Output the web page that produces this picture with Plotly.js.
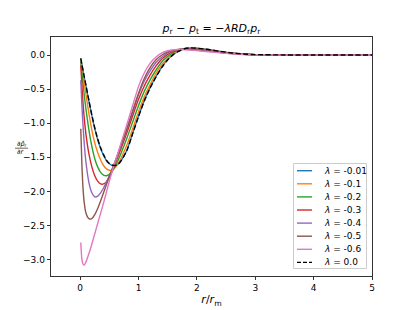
<!DOCTYPE html>
<html>
<head>
<meta charset="utf-8">
<script src="https://cdn.plot.ly/plotly-3.0.1.min.js"></script>
<style>html,body{margin:0;padding:0;background:#fff;}#chart{width:413px;height:310px;}</style>
</head>
<body>
<div id="chart"></div>
<script>
// r / r_m sample positions
var r = [0.01, 0.03, 0.05, 0.07, 0.1, 0.15, 0.2, 0.25, 0.3, 0.35, 0.4, 0.45, 0.5, 0.55, 0.6, 0.65, 0.7, 0.8, 0.9, 1.0, 1.1, 1.2, 1.3, 1.4, 1.5, 1.6, 1.7, 1.8, 1.9, 2.0, 2.2, 2.4, 2.6, 2.8, 3.0, 3.5, 4.0, 5.0];

var lam_m001 = [-0.05, -0.14, -0.235, -0.33, -0.46, -0.68, -0.89, -1.08, -1.24, -1.37, -1.47, -1.55, -1.595, -1.62, -1.625, -1.60, -1.55, -1.395, -1.145, -0.895, -0.665, -0.475, -0.315, -0.175, -0.068, 0.012, 0.061, 0.095, 0.105, 0.10, 0.08, 0.053, 0.03, 0.014, 0.006, 0.001, 0, 0];
var lam_m01 = [-0.07, -0.18, -0.30, -0.40, -0.58, -0.86, -1.10, -1.29, -1.43, -1.54, -1.62, -1.67, -1.69, -1.685, -1.65, -1.59, -1.51, -1.32, -1.08, -0.83, -0.61, -0.43, -0.27, -0.14, -0.05, 0.025, 0.07, 0.095, 0.10, 0.095, 0.075, 0.05, 0.028, 0.013, 0.005, 0.001, 0, 0];
var lam_m02 = [-0.10, -0.26, -0.43, -0.59, -0.80, -1.10, -1.34, -1.52, -1.64, -1.72, -1.76, -1.77, -1.75, -1.70, -1.63, -1.54, -1.44, -1.22, -0.98, -0.74, -0.53, -0.36, -0.22, -0.10, -0.02, 0.04, 0.075, 0.09, 0.095, 0.09, 0.07, 0.047, 0.026, 0.012, 0.005, 0.001, 0, 0];
var lam_m03 = [-0.15, -0.45, -0.72, -0.93, -1.17, -1.45, -1.64, -1.77, -1.85, -1.89, -1.89, -1.86, -1.79, -1.70, -1.59, -1.48, -1.37, -1.14, -0.89, -0.65, -0.45, -0.29, -0.16, -0.06, 0.01, 0.055, 0.08, 0.09, 0.09, 0.085, 0.065, 0.044, 0.025, 0.011, 0.004, 0.001, 0, 0];
var lam_m04 = [-0.37, -0.75, -1.05, -1.30, -1.58, -1.87, -2.02, -2.08, -2.07, -2.02, -1.95, -1.86, -1.77, -1.67, -1.56, -1.45, -1.33, -1.09, -0.83, -0.58, -0.38, -0.23, -0.11, -0.03, 0.03, 0.065, 0.082, 0.087, 0.085, 0.08, 0.06, 0.04, 0.022, 0.01, 0.004, 0.001, 0, 0];
var lam_m05 = [-1.08, -1.62, -1.97, -2.17, -2.32, -2.40, -2.40, -2.34, -2.25, -2.14, -2.02, -1.90, -1.78, -1.67, -1.56, -1.44, -1.32, -1.08, -0.82, -0.56, -0.34, -0.18, -0.07, 0.0, 0.045, 0.072, 0.082, 0.083, 0.078, 0.072, 0.055, 0.036, 0.02, 0.009, 0.003, 0.001, 0, 0];
var lam_m06 = [-2.75, -3.00, -3.07, -3.08, -3.03, -2.91, -2.77, -2.62, -2.47, -2.32, -2.17, -2.01, -1.85, -1.70, -1.56, -1.43, -1.29, -1.02, -0.74, -0.46, -0.26, -0.12, -0.03, 0.03, 0.062, 0.077, 0.08, 0.077, 0.071, 0.064, 0.048, 0.032, 0.018, 0.008, 0.003, 0.001, 0, 0];
var lam_0 = [-0.05, -0.14, -0.23, -0.32, -0.45, -0.67, -0.88, -1.07, -1.23, -1.36, -1.46, -1.54, -1.59, -1.615, -1.62, -1.60, -1.55, -1.40, -1.15, -0.90, -0.67, -0.48, -0.32, -0.18, -0.07, 0.01, 0.06, 0.095, 0.105, 0.10, 0.08, 0.053, 0.03, 0.014, 0.006, 0.001, 0, 0];

var labels = ["-0.01", "-0.1", "-0.2", "-0.3", "-0.4", "-0.5", "-0.6", "0.0"];
var seriesList = [lam_m001, lam_m01, lam_m02, lam_m03, lam_m04, lam_m05, lam_m06, lam_0];
var colors = ["#1f77b4", "#ff7f0e", "#2ca02c", "#d62728", "#9467bd", "#8c564b", "#e377c2", "#000000"];
var xTicks = [0, 1, 2, 3, 4, 5];

var traces = seriesList.map(function (ys, i) {
  return {
    x: r, y: ys, type: "scatter", mode: "lines",
    name: "λ = " + labels[i],
    line: {color: colors[i], width: 1.4, shape: "spline", smoothing: 0.7,
           dash: i === 7 ? "5px,2.5px" : "solid"},
    showlegend: false, hoverinfo: "skip"
  };
});

var FONT = "DejaVu Sans, sans-serif";
var L = 51, R = 372, T = 37, B = 276, W = 413, H = 310;
function px2x(p) { return (p - L) / (R - L); }
function px2y(p) { return (B - p) / (B - T); }

var shapes = [];
var annotations = [];

// manual legend (matplotlib style)
shapes.push({type: "rect", xref: "paper", yref: "paper",
  x0: px2x(293.5), x1: px2x(366.5), y0: px2y(268.5), y1: px2y(163.5),
  line: {color: "#cccccc", width: 1}, fillcolor: "rgba(255,255,255,0.8)", layer: "above"});
labels.forEach(function (lab, i) {
  var yy = 170.7 + 13.1 * i;
  shapes.push({type: "line", xref: "paper", yref: "paper",
    x0: px2x(297), x1: px2x(312), y0: px2y(yy), y1: px2y(yy),
    line: {color: colors[i], width: 1.4, dash: i === 7 ? "4px,2px" : "solid"}, layer: "above"});
  annotations.push({xref: "paper", yref: "paper", x: px2x(322), y: px2y(yy),
    xanchor: "left", yanchor: "middle", showarrow: false,
    text: "<i>λ</i> = " + lab, font: {family: FONT, size: 9, color: "#000"}});
});

// y-axis label as a small fraction
annotations.push({xref: "paper", yref: "paper", x: px2x(21.5), y: px2y(144),
  xanchor: "center", yanchor: "middle", showarrow: false, borderpad: 0,
  text: "∂<i>p̂</i><sub>r</sub>", font: {family: FONT, size: 6.5, color: "#000"}});
annotations.push({xref: "paper", yref: "paper", x: px2x(20.5), y: px2y(151.5),
  xanchor: "center", yanchor: "middle", showarrow: false, borderpad: 0,
  text: "∂<i>r</i>", font: {family: FONT, size: 6.5, color: "#000"}});
shapes.push({type: "line", xref: "paper", yref: "paper",
  x0: px2x(15), x1: px2x(28), y0: px2y(148.2), y1: px2y(148.2),
  line: {color: "#000", width: 0.6}});

var layout = {
  width: W, height: H,
  margin: {l: L, r: W - R, t: T, b: H - B, pad: 0},
  paper_bgcolor: "#fff", plot_bgcolor: "#fff",
  font: {family: FONT, size: 9, color: "#000"},
  title: {text: "<i>p</i><sub>r</sub> − <i>p</i><sub>t</sub> = −<i>λRD</i><sub>r</sub><i>p</i><sub>r</sub>",
          font: {family: FONT, size: 11, color: "#000"},
          x: 0.5, xref: "paper", xanchor: "center",
          y: 1 - 28 / H, yref: "container", yanchor: "middle"},
  xaxis: {range: [-0.5, 5], tickvals: xTicks, ticktext: xTicks.map(String),
          ticks: "outside", ticklen: 3.5, tickwidth: 0.8, tickcolor: "#000",
          showline: true, mirror: true, linecolor: "#000", linewidth: 0.8,
          showgrid: false, zeroline: false,
          tickfont: {family: FONT, size: 9, color: "#000"},
          title: {text: "<i>r</i>/<i>r</i><sub>m</sub>", font: {family: FONT, size: 11, color: "#000"}, standoff: 3}},
  yaxis: {range: [-3.24, 0.264], dtick: 0.5, tick0: 0, tickformat: ".1f",
          ticks: "outside", ticklen: 3.5, tickwidth: 0.8, tickcolor: "#000",
          showline: true, mirror: true, linecolor: "#000", linewidth: 0.8,
          showgrid: false, zeroline: false,
          tickfont: {family: FONT, size: 9, color: "#000"}},
  showlegend: false,
  shapes: shapes,
  annotations: annotations
};

Plotly.newPlot("chart", traces, layout, {staticPlot: true, displayModeBar: false});
</script>
</body>
</html>
